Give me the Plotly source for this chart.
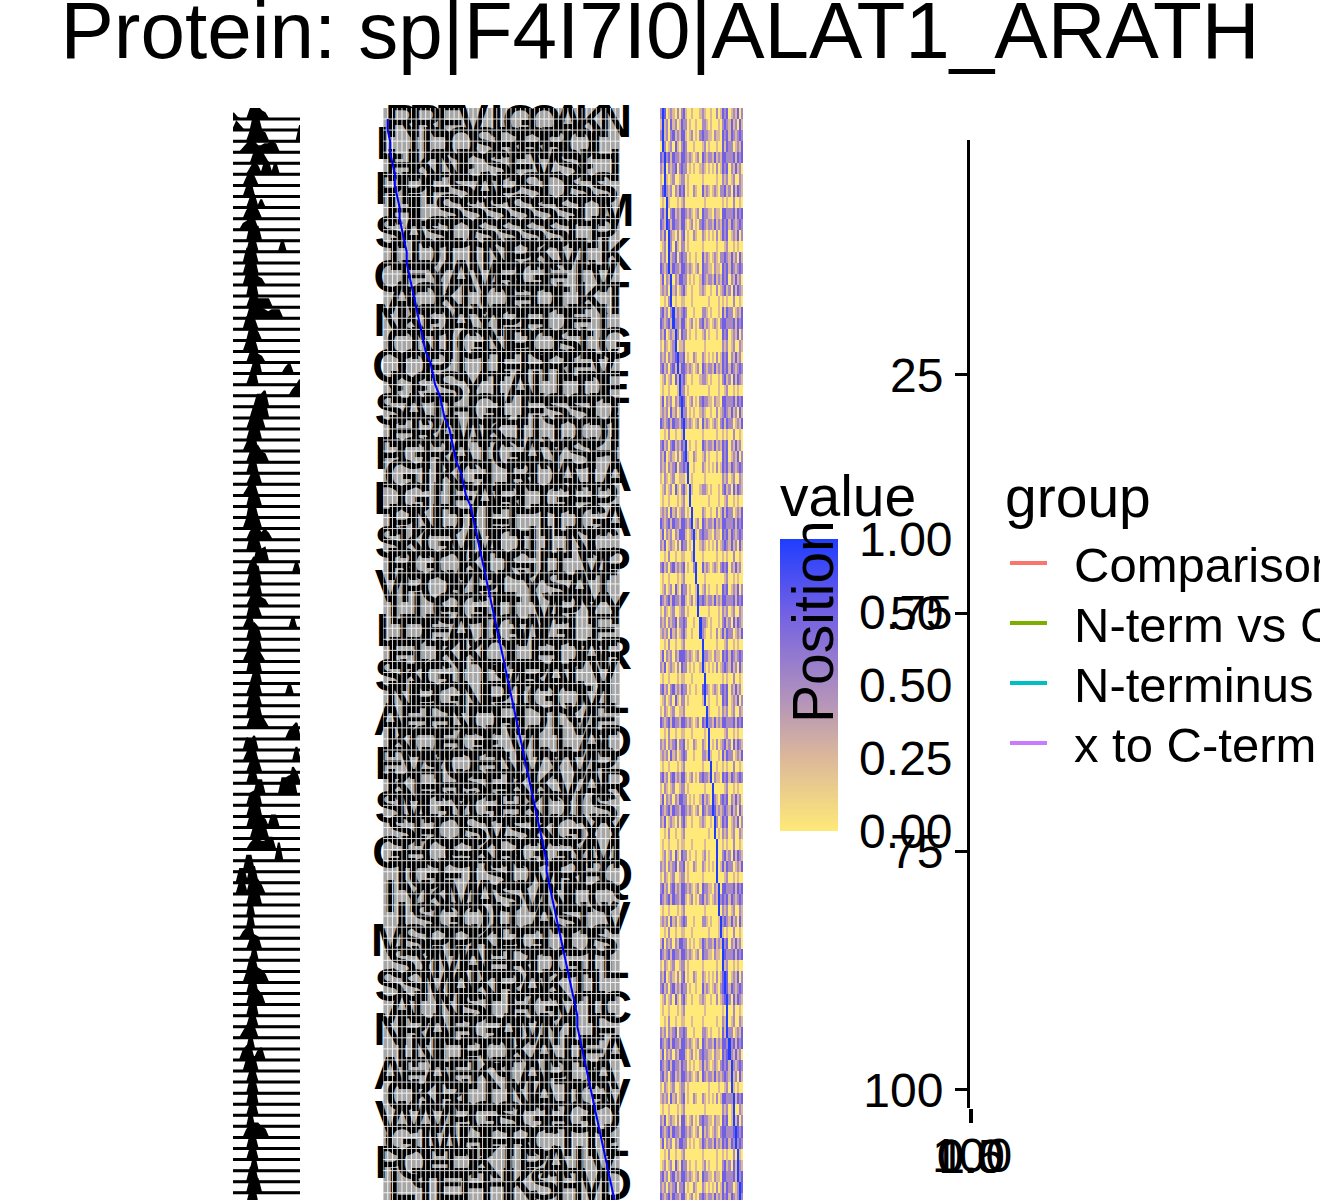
import plotly.graph_objects as go

W, H = 1320, 1200
OFF = 0  # page body margin removed via post_script below
FONT = "Liberation Sans, Arial, Helvetica, sans-serif"

def px(x):
    return (x - OFF) / W

def py(y):
    return 1 - (y - OFF) / H

# ---------------- data ----------------
title_text = "Protein: sp|F4I7I0|ALAT1_ARATH"

# ridge heights per peptide row (20 sample points across the panel, 0-9)
ridge_rows = [
    "31000586430000000000", "04200087000000000000", "00000586540000000008", "00024653344540000000",
    "00000057630000000000", "00000364066060000000", "00004740000000000000", "00005700000000000000",
    "00000560400000000000", "00004664000000000000", "00034650000000000000", "00000877000000000000",
    "00000770000000600000", "00007670000000000000", "00006880000000000000", "00006884300000000000",
    "00000990000000000000", "00000574444000000000", "00000686543444000000", "00006850000000000000",
    "00000764000000000000", "00005760000000000000", "00000574300000000000", "00000068000000035000",
    "00000580000000000000", "00000000000000000358", "00000006680000000000", "00000067880000000000",
    "00000588600000000000", "00000697000000000000", "00004880000000000000", "00000568540000000000",
    "00000680000000000000", "00000476000000000000", "00003660000000000000", "00000786000000000000",
    "00000970000000000000", "00005686000000000000", "00000466353000000000", "00000786000000000000",
    "00000007670000000000", "00000580000000000060", "00000679000000000000", "00000588000000000000",
    "00000486430000000000", "00000765000000000000", "00004700000000000600", "00000786000000000000",
    "00000568000000000000", "00004766300000000000", "00000878000000000000", "00000068000000000000",
    "00000597000000006000", "00000696000000000000", "00000798000000000000", "00000568630000000000",
    "00000000000000004680", "00006470000000000000", "00004870000000000070", "00000586000000000000",
    "00000670000000000850", "00000007700000889900", "00000678000000000000", "00000678000000000000",
    "00000677540660000000", "00000068760000000000", "00000355446600000000", "00000000000009000000",
    "00008800000000000000", "00770880000000000000", "00660787400000000000", "00000787000000000000",
    "00000900000000000000", "00000900000000000000", "00035700000000000000", "00000576000000000000",
    "00000080000000000000", "00000770000000000000", "00005787640000000000", "00000780000000000000",
    "00000787500000000000", "00000790000000000000", "00000660000000000000", "00036850000000000000",
    "00000800000000000000", "00057604600000000000", "00006770000000000000", "00000660000000000000",
    "00000770000000000000", "00000890000000000000", "00000670000000000000", "00000800000000000000",
    "00004677540000000000", "00000770000000000000", "00000670000000000000", "00000080000000000000",
    "00000780000000000000", "00000787000000000000", "00000780000000000000", "00000670000000000000",
]

# start position of each peptide along the protein (0-100 scale)
start_pos = [
    2, 2, 3, 3, 4, 5, 5, 6, 7, 7, 8, 9, 10, 10, 11, 12, 13, 14,
    15, 16, 17, 18, 20, 21, 22, 24, 25, 26, 28, 29, 30, 31, 33, 34, 35, 37, 38, 39, 40, 41, 42,
    43, 44, 45, 46, 47, 48, 49, 50, 51, 52, 53, 54, 55, 56, 57, 58, 59, 60, 61, 62, 63, 64,
    65, 66, 67, 68, 69, 69, 70, 71, 72, 73, 74, 75, 76, 77, 78, 79, 80, 81, 82, 82,
    83, 84, 85, 86, 87, 88, 89, 90, 91, 92, 93, 94, 95, 96, 97, 98, 99,
]

# heatmap values per row, 40 columns, digit d -> value d/4
heat_rows = [
    "2130121020231001000121001002013230121302", "1212031201322010010022101000102321312031",
    "2312023121331012010232211021103231321232", "0120120310232000100012010001003132201213",
    "3212313221332121012032122131213322231323", "2120212302322010100121010102013230213120",
    "1021012001220100000010000001002120120021", "1302120213230100210031210121022312031321",
    "0100100010120000000001000000001010020010", "2312023121332121012032211021103322231323",
    "3212313221331012010232122131213231321232", "2130121020230100210021010102013230121302",
    "0120120310220100000010000001000120010100", "2120212302322010010031210121022321312031",
    "3212313221332121012032211021103231321232", "1302120213322010100132122131213230213120",
    "1212031201231001000121001002012312031321", "0010200100110001000000010000101010020010",
    "2312023121232000100022101000103132201213", "3212313221331012010231210121023322231323",
    "2130121020322010010012010001003230121302", "1021012001120000000001000000002120120021",
    "2120212302230100210021010102013230213120", "2312023121332121012032122131213231321232",
    "0120120310231001000122101000102312031321", "0100100010220100000000010000100120010100",
    "1302120213331012010232211021103322231323", "1212031201322010100121001002012321312031",
    "3212313221332121012031210121023132201213", "0010200100120000000010000001001010020010",
    "2312023121322010010032122131213230213120", "2130121020230100210012010001003230121302",
    "2120212302232000100021010102013231321232", "1021012001110001000001000000002120120021",
    "0120120310231001000122101000102312031321", "0100100010120000000000010000100120010100",
    "1212031201220100000021001002013132201213", "3212313221332121012032122131213322231323",
    "1302120213331012010232211021103231321232", "2130121020322010100121010102012321312031",
    "0010200100110001000010000001001010020010", "2312023121230100210031210121023230213120",
    "0100100010120000000001000000000120010100", "0120120310322010010012010001003230121302",
    "3212313221331012010232122131213322231323", "1021012001220100000000010000102120120021",
    "2120212302232000100022101000102312031321", "1212031201231001000121001002013132201213",
    "0010200100120000000010000001000120010100", "1302120213332121012032211021103231321232",
    "2130121020322010100121010102012321312031", "0100100010110001000001000000001010020010",
    "2312023121322010010031210121023230213120", "0120120310220100000012010001003230121302",
    "1021012001120000000000010000102120120021", "3212313221332121012032122131213322231323",
    "0010200100110001000001000000000120010100", "2120212302230100210021010102012312031321",
    "1212031201232000100022101000103132201213", "0100100010120000000010000001001010020010",
    "2312023121331012010232211021103231321232", "1021012001220100000001000000000120010100",
    "1302120213322010100131210121023230213120", "3212313221332121012032122131212321312031",
    "2130121020231001000121001002013230121302", "0010200100120000000000010000102120120021",
    "0100100010110001000001000000001010020010", "0120120310322010010012010001002312031321",
    "2120212302230100210021010102013132201213", "1021012001220100000010000001000120010100",
    "2312023121332121012032211021103322231323", "3212313221331012010231210121023231321232",
    "0100100010120000000001000000002120120021", "1212031201232000100022101000102321312031",
    "0010200100110001000000010000101010020010", "1302120213322010100132122131213230213120",
    "3212313221332121012032211021103322231323", "1021012001220100000010000001000120010100",
    "2130121020230100210021010102013230121302", "2312023121322010010031210121023231321232",
    "0120120310231001000121001002012312031321", "0100100010120000000001000000001010020010",
    "0010200100110001000010000001002120120021", "2120212302232000100022101000103132201213",
    "3212313221332121012032122131213322231323", "1302120213331012010232211021103230213120",
    "3212313221322010100131210121023231321232", "2312023121332121012032122131212321312031",
    "1021012001220100000000010000100120010100", "1212031201230100210021010102013322231323",
    "0100100010120000000001000000002120120021", "2130121020331012010232211021103230121302",
    "3212313221332121012031210121023322231323", "1302120213322010100132122131213231321232",
    "0010200100120000000010000001001010020010", "0120120310322010010012010001002312031321",
    "2312023121332121012032211021103322231323", "2120212302230100210021010102013132201213",
    "3212313221331012010232122131213231321232", "1212031201231001000121001002013230213120",
]

sequence = (
    "MRRFVIGQAKNLIDQSRRRQLHHHKNLSFVSLIPPFSAPSDSSSRHLSSSSSSDMSASDSSSSLPVTLDTINPKVLKCEYAV"
    "RGEIVNIAQKLQEDLKTNKDAYPFDEIIYCNIGNPQSLGQQPITFFREVLALCSYTALLDESATHGLFSSDSIERAWKILDQ"
    "IPGRATGAYSHSQGIKGLRDAIADGIEARDGFPADPNDIFLTDGASKGVMQILNCVIRGQKDGILVPVPQYPLYSATISLLG"
    "GTLVPYYLDEATGWGLEISELKKQLEDARSKGITVRALVVINPGNPTGQVLAEENQRDIVEFCKQEGLVLLADEVYQENVYV"
    "PDKKFHSFKKVARSMGYGEKDISLVSFQSVSKGYYGECGKRGGYMEVTGFTSDVREQIYKMASVNLCSNISGQILASLVMSP"
    "PKPGDDSYDSYMAERDGILSSMAKRAKTLEDALNSLEGVTCNRAEGAMYLFPRINLPQKAIEAAEAEKTAPDAFYCKRLLNA"
    "TGVVVVPGSGFGQVPGTWHFRCTILPQEDKIPAIVNRLTEFHKSFMDEFRD"
)

cbar_ticks = [0, 0.25, 0.5, 0.75, 1.0]
cbar_labels = ["0.00", "0.25", "0.50", "0.75", "1.00"]
right_yticks = [25, 50, 75, 100]
right_xticks = [0, 0.5, 1.0]
right_xlabels = ["0.0", "0.5", "1.0"]
groups = ["Comparison", "N-term vs C-term", "N-terminus", "x to C-term"]
group_colors = ["#F8766D", "#7CAE00", "#00BFC4", "#C77CFF"]

# ---------------- build ----------------
n_rows = len(ridge_rows)
ROW_PX = 11.07
ROW_TOP = (108 - 119) / ROW_PX
ROW_BOT = (H + OFF - 119) / ROW_PX
HEAT_BOT = -0.5 + (H + OFF - 108) / ROW_PX
RIDGE_SCALE = 0.18

fig = go.Figure()

# ridges
bx, by, fx, fy = [], [], [], []
for k, row in enumerate(ridge_rows):
    hs = [int(c) for c in row]
    bx += [0, len(hs) - 1, None]
    by += [k, k, None]
    if max(hs) > 0:
        fx += list(range(len(hs))) + [len(hs) - 1, 0, None]
        fy += [k - h * RIDGE_SCALE for h in hs] + [k, k, None]
fig.add_trace(go.Scatter(x=bx, y=by, mode="lines", line=dict(color="black", width=3),
                         xaxis="x", yaxis="y", hoverinfo="skip"))
fig.add_trace(go.Scatter(x=fx, y=fy, mode="lines", fill="toself", fillcolor="black",
                         line=dict(color="black", width=2), xaxis="x", yaxis="y", hoverinfo="skip"))

# letters panel
lx, ly, lt = [], [], []
idx = 0
n_letter_rows = 50
for j in range(n_letter_rows):
    off = -2 if j % 2 == 0 else 3
    for c in range(11):
        lx.append(off + 10 * c)
        ly.append(2 * j + 0.6)
        lt.append(sequence[idx % len(sequence)])
        idx += 1
fig.add_trace(go.Scatter(x=lx, y=ly, text=lt, mode="text", cliponaxis=False,
                         textfont=dict(size=46, color="black", family=FONT, weight="bold"),
                         xaxis="x2", yaxis="y2", hoverinfo="skip"))
gx, gy = [], []
for v in range(0, 101, 2):
    gx += [v, v, None]
    gy += [ROW_TOP, ROW_BOT, None]
for k in range(n_rows):
    gx += [0, 100, None]
    gy += [k, k, None]
fig.add_trace(go.Scatter(x=gx, y=gy, mode="lines", line=dict(color="white", width=1),
                         opacity=0.85, xaxis="x2", yaxis="y2", hoverinfo="skip"))
fig.add_trace(go.Scatter(x=start_pos[:n_rows], y=list(range(n_rows)), mode="lines",
                         line=dict(color="#0000FF", width=2), xaxis="x2", yaxis="y2",
                         hoverinfo="skip"))

# heatmap
n_cols = 40
z = []
for k, row in enumerate(heat_rows[:n_rows]):
    vals = [int(c) / 4 for c in row.ljust(n_cols, "0")[:n_cols]]
    col = round(start_pos[k] * (n_cols - 1) / 100)
    vals[col] = 1.0
    z.append(vals)
colorscale = [[0, "#FFE978"], [0.25, "#DCB89A"], [0.5, "#A88AC2"], [0.75, "#7260E4"], [1, "#1F3DFF"]]
fig.add_trace(go.Heatmap(
    z=z, x=list(range(n_cols)), y=list(range(len(z))), zmin=0, zmax=1,
    colorscale=colorscale, xaxis="x3", yaxis="y3", hoverinfo="skip",
    colorbar=dict(
        x=px(780), xanchor="left", xpad=0, y=py(831), yanchor="bottom", ypad=0,
        len=361, lenmode="pixels", thickness=58, thicknessmode="pixels",
        outlinewidth=0, tickvals=cbar_ticks, ticktext=cbar_labels,
        tickfont=dict(size=48, color="black", family=FONT),
        ticks="outside", ticklen=12, tickcolor="white", tickwidth=1,
        title=dict(text="value", side="top", font=dict(size=57, color="black", family=FONT)),
    ),
))

# right (empty) panel axis
fig.add_trace(go.Scatter(x=[None], y=[None], mode="lines", xaxis="x4", yaxis="y4", hoverinfo="skip"))

dom_y = [0, py(108)]
fig.update_layout(
    width=W, height=H,
    margin=dict(l=0, r=0, t=0, b=0, autoexpand=False),
    paper_bgcolor="white", plot_bgcolor="white", showlegend=False,
    font=dict(family=FONT, color="black"),
    title=dict(text=title_text, x=px(660), xanchor="center", xref="paper",
               y=py(30), yref="paper", yanchor="middle",
               font=dict(size=80, color="black", family=FONT)),
    xaxis=dict(domain=[px(233), px(300)], range=[0, 19], visible=False),
    yaxis=dict(domain=dom_y, range=[ROW_BOT, ROW_TOP], visible=False),
    xaxis2=dict(domain=[px(383), px(620)], range=[0, 100], visible=False, anchor="y2"),
    yaxis2=dict(domain=dom_y, range=[ROW_BOT, ROW_TOP], visible=False, anchor="x2"),
    xaxis3=dict(domain=[px(660), px(743)], range=[-0.5, n_cols - 0.5], visible=False, anchor="y3"),
    yaxis3=dict(domain=dom_y, range=[HEAT_BOT, -0.5], visible=False, anchor="x3"),
    xaxis4=dict(domain=[px(970), px(971.5)], range=[0, 1], anchor="y4",
                tickvals=right_xticks, ticktext=right_xlabels, tickangle=0,
                ticks="outside", ticklen=14, tickwidth=3, tickcolor="black",
                showline=False, showgrid=False, zeroline=False,
                tickfont=dict(size=48, color="black", family=FONT), ticklabelstandoff=-8),
    yaxis4=dict(domain=[py(1108), py(140)], range=[101.9, 0.35], anchor="x4",
                tickvals=right_yticks, ticks="outside", ticklen=12, tickwidth=3,
                tickcolor="black", showline=True, linewidth=3, linecolor="black",
                showgrid=False, zeroline=False,
                tickfont=dict(size=48, color="black", family=FONT), ticklabelstandoff=2),
    shapes=[dict(type="rect", xref="x2 domain", yref="y2 domain", x0=0, x1=1, y0=0, y1=1,
                 fillcolor="#A6A6A6", line=dict(width=0), layer="below")],
)

annotations = [
    dict(text="Position", x=px(813), y=py(622), xref="paper", yref="paper", showarrow=False,
         xanchor="center", yanchor="middle",
         textangle=-90, font=dict(size=57, color="black", family=FONT)),
    dict(text="100", x=px(972), y=py(1155), xref="paper", yref="paper", showarrow=False,
         xanchor="center", yanchor="middle",
         font=dict(size=48, color="black", family=FONT)),
    dict(text="group", x=px(1003), y=py(497), xref="paper", yref="paper", showarrow=False,
         xanchor="left", yanchor="middle", font=dict(size=57, color="black", family=FONT)),
]
shapes = list(fig.layout.shapes)
for i, (g, c) in enumerate(zip(groups, group_colors)):
    yy = 565 + 60 * i
    annotations.append(dict(text=g, x=px(1072), y=py(yy), xref="paper", yref="paper",
                            showarrow=False, xanchor="left", yanchor="middle",
                            font=dict(size=49, color="black", family=FONT)))
    shapes.append(dict(type="line", xref="paper", yref="paper", x0=px(1010), x1=px(1047),
                       y0=py(yy - 2), y1=py(yy - 2), line=dict(color=c, width=4)))
fig.update_layout(annotations=annotations, shapes=shapes)

fig.write_html("out.html", config={"displayModeBar": False},
               post_script="document.body.style.margin='0';")
